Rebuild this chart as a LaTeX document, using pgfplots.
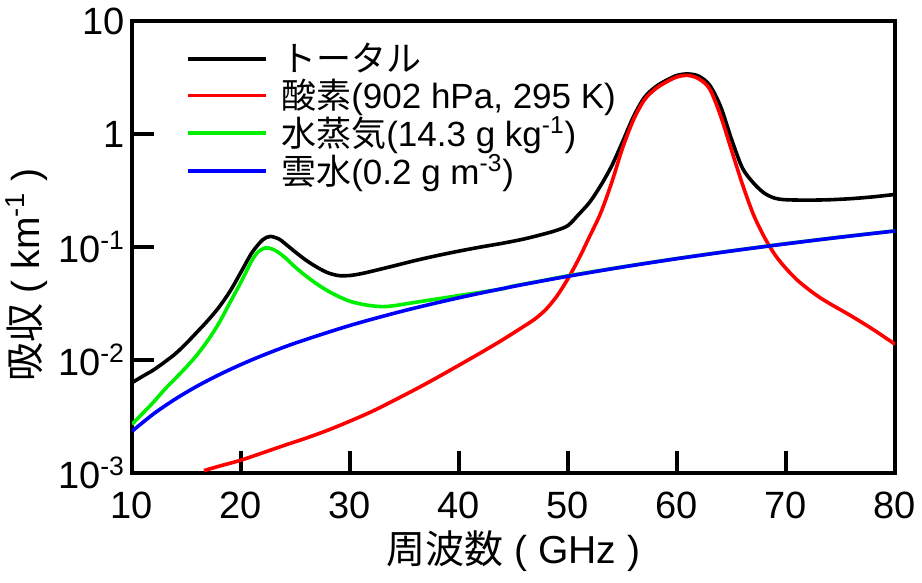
\documentclass[border=0pt]{standalone}
\usepackage{fontspec}
\setmainfont{Liberation Sans}
\newfontfamily\jp{Noto Sans CJK JP}
\usepackage{pgfplots}
\pgfplotsset{compat=1.18}

\definecolor{vapour}{RGB}{0,238,0}

\begin{document}
\begin{tikzpicture}
\begin{axis}[
    name=ax,
    width=381.5pt, height=226pt, scale only axis,
    xmin=10, xmax=80, ymin=1e-3, ymax=10, ymode=log,
    xtick={10,20,...,80},
    ytick={1e-3,1e-2,1e-1,1,10},
    yticklabels={10\textsuperscript{-3},10\textsuperscript{-2},10\textsuperscript{-1},1,10},
    yminorticks=false,
    tick pos=left, tick align=inside, major tick length=11pt,
    axis line style={line width=2pt},
    every tick/.style={line width=2pt, black},
    tick label style={font=\fontsize{19}{19}\selectfont},
    xticklabel style={yshift=-6pt},
    /pgf/number format/assume math mode=true,
    xlabel={{\jp 周波数} ( GHz )},
    ylabel={{\jp 吸収} ( km\textsuperscript{-1} )},
    every axis x label/.style={at={([yshift=-39pt]rel axis cs:0.5,0)}, anchor=center},
    every axis y label/.style={at={([xshift=-52.5pt]rel axis cs:0,0.438)}, anchor=center, rotate=90},
    label style={font=\fontsize{19.5}{19.5}\selectfont},
    legend style={draw=none, fill=none, at={(0.062,0.97)}, anchor=north west,
        font=\fontsize{17.5}{20}\selectfont, row sep=-1.5pt},
    legend cell align=left,
    legend image code/.code={\draw[#1] (0pt,0pt) -- (39pt,0pt); \path (44pt,0pt);},
    every axis plot/.append style={line width=1.8pt, smooth},
]

% total
\addplot[black] coordinates {
(10,0.0063) (11,0.0072) (12,0.0082) (13,0.0096) (14,0.0114) (15,0.0141)
(16,0.0178) (17,0.0226) (18,0.0295) (19,0.0407) (20,0.060) (21,0.089) (22,0.116)
(22.7,0.124) (23.5,0.1175) (24,0.108) (25,0.09) (26,0.076) (27,0.066) (28,0.059)
(29,0.0558) (30,0.056) (31,0.058) (32,0.061) (34,0.068) (36,0.076) (38,0.084)
(40,0.092) (42,0.1) (44,0.108) (46,0.118) (48,0.132) (49,0.141) (50,0.155)
(51,0.195) (52,0.25) (53,0.35) (54,0.52) (55,0.85) (56,1.42) (57,2.1) (58,2.6)
(59,2.98) (60,3.3) (61,3.4) (62,3.25) (63,2.7) (64,1.75) (65,0.9) (66,0.5)
(67,0.37) (68,0.3) (69,0.27) (70,0.262) (72,0.26) (74,0.262) (76,0.268)
(78,0.278) (80,0.292)
};
\addlegendentry{{\jp トータル}}

% oxygen
\addplot[red] coordinates {
(16.6,0.00105) (18,0.00115) (20,0.0013) (22,0.00151) (24,0.00176) (26,0.00204)
(28,0.0024) (30,0.00288) (32,0.0035) (34,0.00437) (36,0.0055) (38,0.007)
(40,0.009) (42,0.0116) (44,0.0151) (46,0.02) (47,0.0232) (48,0.0282) (49,0.037)
(50,0.0525) (51,0.079) (52,0.125) (53,0.2) (54,0.37) (55,0.75) (56,1.33)
(57,2.0) (58,2.5) (59,2.88) (60,3.2) (61,3.3) (62,3.08) (63,2.5) (64,1.45)
(65,0.72) (66,0.36) (67,0.195) (68,0.123) (69,0.085) (70,0.0646) (71,0.0513)
(72,0.0427) (73,0.0363) (74,0.0316) (76,0.0245) (78,0.0186) (80,0.0138)
};
\addlegendentry{{\jp 酸素}(902 hPa, 295 K)}

% water vapour
\addplot[vapour] coordinates {
(10,0.0027) (11,0.00339) (12,0.00427) (13,0.0055) (14,0.0069) (15,0.0087)
(16,0.0112) (17,0.0151) (18,0.0214) (19,0.0324) (20,0.049) (21,0.076)
(21.6,0.091) (22.2,0.098) (22.8,0.0966) (23.4,0.090) (24,0.0813) (25,0.0661)
(26,0.055) (27,0.0468) (28,0.0407) (29,0.0363) (30,0.0331) (31,0.0313)
(32,0.0302) (33,0.0297) (34,0.0302) (35,0.0313) (36,0.0324) (38,0.0347)
(40,0.0372) (42,0.0398) (44,0.0427) (45,0.0452) (47,0.049) (50,0.0556)
(55,0.0667) (60,0.0791) (65,0.0925) (70,0.107) (75,0.1225) (80,0.139)
};
\addlegendentry{{\jp 水蒸気}(14.3 g kg\textsuperscript{-1})}

% cloud water
\addplot[blue] coordinates {
(10,0.00234) (12,0.00335) (14,0.00453) (16,0.00589) (18,0.00742) (20,0.00912)
(22,0.0110) (25,0.01414) (30,0.02022) (35,0.02737) (40,0.03557) (45,0.04482)
(50,0.05511) (55,0.06646) (60,0.07886) (65,0.09225) (70,0.1067) (75,0.1222)
(80,0.1387)
};
\addlegendentry{{\jp 雲水}(0.2 g m\textsuperscript{-3})}

\end{axis}
\pgfresetboundingbox
\path ([shift={(-66pt,-54.5pt)}]ax.south west) rectangle ([shift={(13.5pt,10.5pt)}]ax.north east);
\end{tikzpicture}
\end{document}
